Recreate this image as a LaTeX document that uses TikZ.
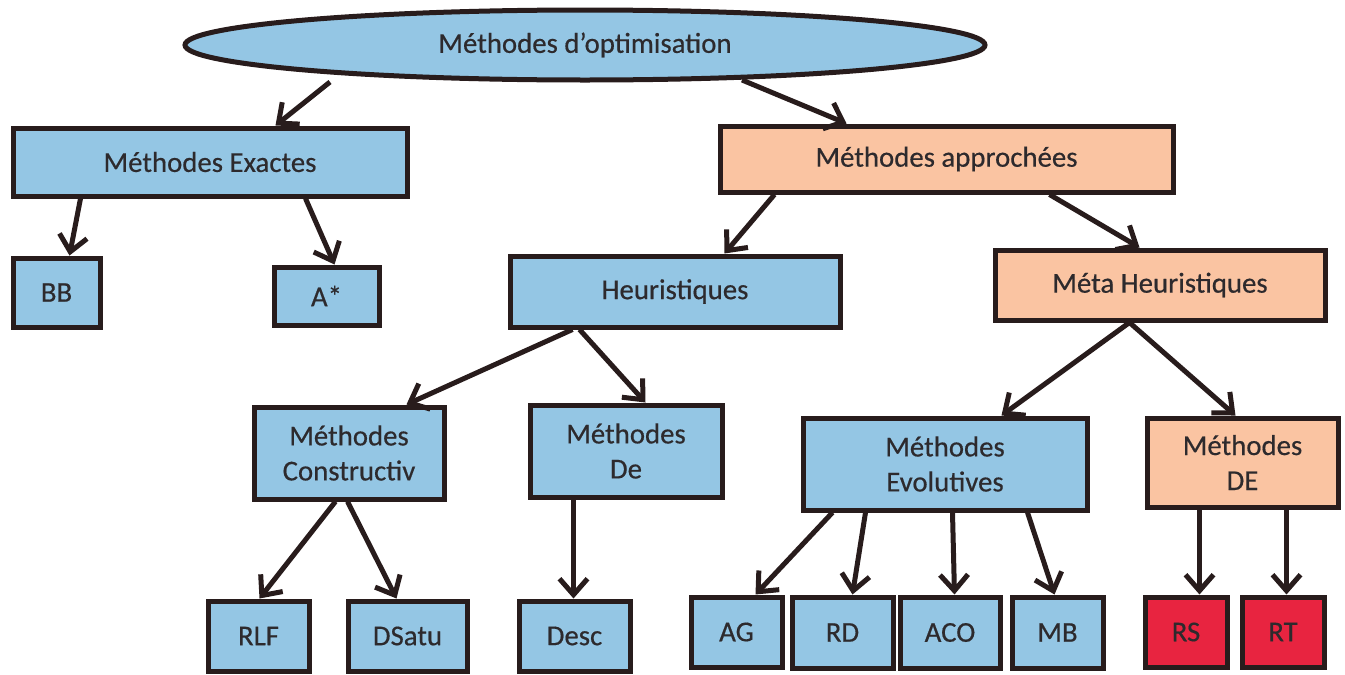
\documentclass[tikz,border=0pt]{standalone}
\usepackage{fontspec}
\setmainfont{Carlito}
\newfontfamily\lblfont{Carlito}[FakeBold=0.45]
\usetikzlibrary{arrows.meta,calc,shapes.geometric}

\definecolor{boxblue}{RGB}{148,198,228}
\definecolor{boxorange}{RGB}{250,196,162}
\definecolor{boxred}{RGB}{232,36,64}
\definecolor{edge}{RGB}{40,28,28}
\definecolor{ink}{RGB}{45,42,45}

\tikzset{
  base/.style={draw=edge, line width=2.5pt, text=ink, inner sep=0pt,
    align=center, font=\lblfont\fontsize{14.4}{17.5}\selectfont},
  bluebox/.style={base, rectangle, fill=boxblue},
  orangebox/.style={base, rectangle, fill=boxorange},
  redbox/.style={base, rectangle, fill=boxred},
  arr/.style={draw=edge, line width=2.5pt,
    -{Straight Barb[length=8pt,width=14pt,line width=2.5pt]}},
}

\begin{document}
\begin{tikzpicture}[x=0.5pt,y=-0.5pt]
\useasboundingbox (0,0) rectangle (1345,675);

% root
\node[base, ellipse, fill=boxblue, minimum width=400pt, minimum height=35pt]
  (opt) at (585,45) {Méthodes d’optimisation};

% level 1
\node[bluebox, minimum width=197pt, minimum height=34pt] (ex) at (210,162) {Méthodes Exactes};
\node[orangebox, minimum width=226.5pt, minimum height=33pt] (ap) at (946.5,159) {Méthodes approchées};

% exact methods
\node[bluebox, minimum width=43.5pt, minimum height=34.5pt] (bb) at (56.5,292.5) {BB};
\node[bluebox, minimum width=52.5pt, minimum height=29pt] (as) at (326.5,296) {A*};

% approximate methods
\node[bluebox, minimum width=165pt, minimum height=35.5pt] (he) at (675,291.5) {Heuristiques};
\node[orangebox, minimum width=165pt, minimum height=35pt] (mh) at (1160,285) {Méta Heuristiques};

% heuristics
\node[bluebox, minimum width=95pt, minimum height=46pt] (co) at (349,453) {Méthodes\\Constructiv};
\node[bluebox, minimum width=96pt, minimum height=46pt] (de) at (626,451) {Méthodes\\De};

% metaheuristics
\node[bluebox, minimum width=142pt, minimum height=46pt] (ev) at (945,464) {Méthodes\\Evolutives};
\node[orangebox, minimum width=95.5pt, minimum height=44.5pt] (dE) at (1242.5,462.5) {Méthodes\\DE};

% leaves
\node[bluebox, minimum width=50.5pt, minimum height=35pt] (rlf) at (258.5,636) {RLF};
\node[bluebox, minimum width=59.5pt, minimum height=35pt] (ds) at (407.5,636) {DSatu};
\node[bluebox, minimum width=55.5pt, minimum height=35pt] (dc) at (574.5,636) {Desc};
\node[bluebox, minimum width=45.5pt, minimum height=35pt] (ag) at (736.5,632) {AG};
\node[bluebox, minimum width=50.5pt, minimum height=35.5pt] (rd) at (842.5,632.5) {RD};
\node[bluebox, minimum width=50pt, minimum height=35.5pt] (aco) at (950,632.5) {ACO};
\node[bluebox, minimum width=45.5pt, minimum height=35.5pt] (mb) at (1057.5,632.5) {MB};
\node[redbox, minimum width=41pt, minimum height=35pt] (rs) at (1186,632) {RS};
\node[redbox, minimum width=41pt, minimum height=35pt] (rt) at (1283,632) {RT};

% connectors
\draw[arr] ($(opt.center)+(-255,37)$) -- ($(ex.north west)+(265,0)$);
\draw[arr] ($(opt.center)+(157,35)$) -- ($(ap.north west)+(129,0)$);

\draw[arr] ($(ex.south west)+(70,0)$) -- ($(bb.north west)+(59,0)$);
\draw[arr] ($(ex.south west)+(295,0)$) -- ($(as.north west)+(63,0)$);

\draw[arr] ($(ap.south west)+(57,0)$) -- ($(he.north west)+(217,0)$);
\draw[arr] ($(ap.south west)+(332,0)$) -- ($(mh.north west)+(147,0)$);

\draw[arr] ($(he.south west)+(65,0)$) -- ($(co.north west)+(155,0)$);
\draw[arr] ($(he.south west)+(72,0)$) -- ($(de.north west)+(118,0)$);

\draw[arr] ($(mh.south west)+(137,0)$) -- ($(ev.north west)+(201,0)$);
\draw[arr] ($(mh.south west)+(137,0)$) -- ($(dE.north west)+(91,0)$);

\draw[arr] ($(co.south west)+(84,0)$) -- ($(rlf.north west)+(54,0)$);
\draw[arr] ($(co.south west)+(96,0)$) -- ($(ds.north west)+(51,0)$);
\draw[arr] ($(de.south west)+(46,0)$) -- ($(dc.north west)+(57,0)$);

\draw[arr] ($(ev.south west)+(32,0)$) -- ($(ag.north west)+(67,0)$);
\draw[arr] ($(ev.south west)+(65,0)$) -- ($(rd.north west)+(63,0)$);
\draw[arr] ($(ev.south west)+(152,0)$) -- ($(aco.north west)+(57,0)$);
\draw[arr] ($(ev.south west)+(227,0)$) -- ($(mb.north west)+(45,0)$);

\draw[arr] ($(dE.south west)+(55,0)$) -- ($(rs.north west)+(57,0)$);
\draw[arr] ($(dE.south west)+(142,0)$) -- ($(rt.north west)+(47,0)$);
\end{tikzpicture}
\end{document}
